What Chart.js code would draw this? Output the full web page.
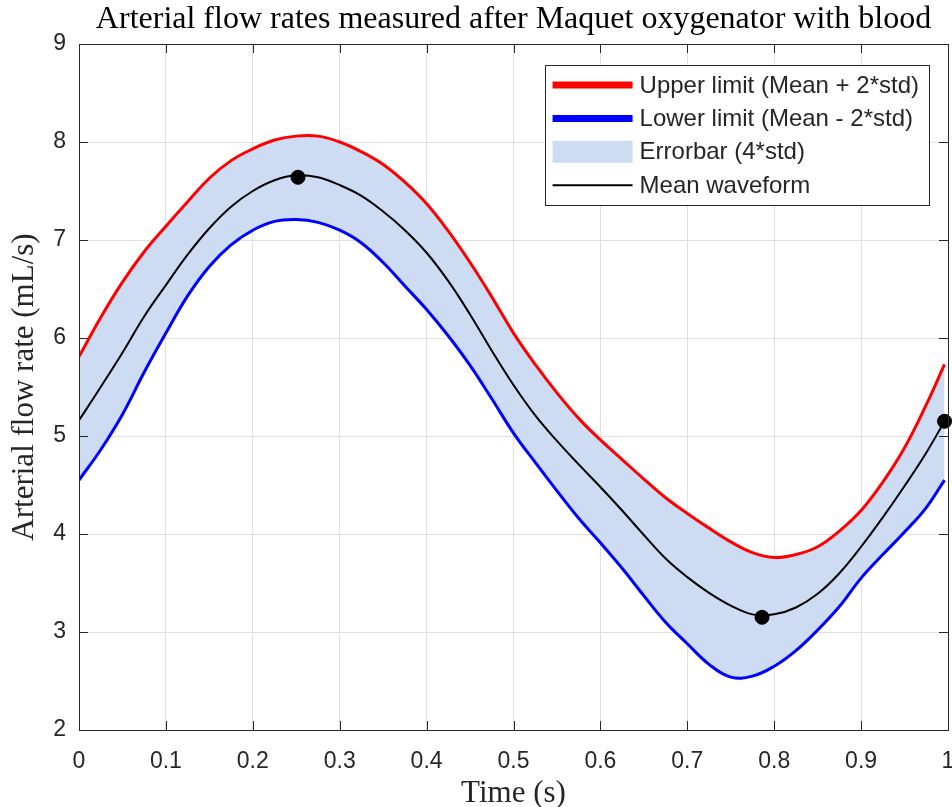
<!DOCTYPE html>
<html>
<head>
<meta charset="utf-8">
<script src="https://cdn.jsdelivr.net/npm/chart.js@4.4.1/dist/chart.umd.min.js"></script>
<style>
  html, body { margin: 0; padding: 0; background: #fff; overflow: hidden; }
  #flow { display: block; }
</style>
</head>
<body>
<canvas id="flow" width="952" height="807"></canvas>
<script>
// time axis (s) and the three waveforms (mL/s)
const timeS = [0, 0.025, 0.05, 0.075, 0.1, 0.125, 0.15, 0.175, 0.2, 0.225,
  0.25, 0.275, 0.3, 0.325, 0.35, 0.375, 0.4, 0.425, 0.45, 0.475,
  0.5, 0.525, 0.55, 0.575, 0.6, 0.625, 0.65, 0.675, 0.7, 0.725,
  0.75, 0.775, 0.8, 0.825, 0.85, 0.875, 0.9, 0.925, 0.95, 0.975, 0.996];

const upperLimit = [5.81, 6.21, 6.57, 6.88, 7.14, 7.39, 7.63, 7.81, 7.93, 8.02,
  8.06, 8.06, 8.00, 7.90, 7.77, 7.59, 7.37, 7.09, 6.77, 6.42,
  6.05, 5.73, 5.44, 5.18, 4.96, 4.76, 4.56, 4.37, 4.21, 4.06,
  3.92, 3.81, 3.76, 3.79, 3.87, 4.03, 4.24, 4.53, 4.88, 5.32, 5.73];

const meanFlow = [5.16, 5.50, 5.85, 6.22, 6.54, 6.85, 7.12, 7.34, 7.50, 7.61,
  7.66, 7.64, 7.56, 7.45, 7.29, 7.10, 6.87, 6.58, 6.24, 5.87,
  5.52, 5.21, 4.95, 4.71, 4.48, 4.24, 3.99, 3.75, 3.56, 3.40,
  3.27, 3.18, 3.18, 3.25, 3.39, 3.60, 3.87, 4.17, 4.49, 4.83, 5.15];

const lowerLimit = [4.55, 4.86, 5.22, 5.65, 6.05, 6.43, 6.73, 6.95, 7.10, 7.19,
  7.21, 7.18, 7.10, 6.97, 6.77, 6.53, 6.29, 6.02, 5.72, 5.38,
  5.03, 4.73, 4.44, 4.16, 3.91, 3.65, 3.37, 3.10, 2.88, 2.67,
  2.54, 2.55, 2.65, 2.81, 3.02, 3.26, 3.55, 3.79, 4.02, 4.27, 4.55];

// black dots: peak, trough, end of cycle
const markerTimes = [0.252, 0.786, 0.996];
const markerFlows = [7.64, 3.15, 5.15];

const legendLabels = ["Upper limit (Mean + 2*std)", "Lower limit (Mean - 2*std)", "Errorbar (4*std)", "Mean waveform"];

const BAND = "#cddcf3";
const INK = "#262626";
const SERIF = "'Liberation Serif', serif";
const SANS = "'Liberation Sans', Arial, sans-serif";

const xy = (xs, ys) => ys.map((v, i) => ({ x: xs[i], y: v }));

const axesBox = {
  id: "axesBox",
  afterDatasetsDraw(chart) {
    const { ctx, chartArea: a, scales: { x, y } } = chart;
    const tl = 9;
    ctx.save();
    ctx.strokeStyle = INK;
    ctx.lineWidth = 1;
    ctx.beginPath();
    x.ticks.forEach(t => {
      const px = Math.round(x.getPixelForValue(t.value)) + 0.5;
      ctx.moveTo(px, a.bottom); ctx.lineTo(px, a.bottom - tl);
      ctx.moveTo(px, a.top); ctx.lineTo(px, a.top + tl);
    });
    y.ticks.forEach(t => {
      const py = Math.round(y.getPixelForValue(t.value)) + 0.5;
      ctx.moveTo(a.left, py); ctx.lineTo(a.left + tl, py);
      ctx.moveTo(a.right, py); ctx.lineTo(a.right - tl, py);
    });
    ctx.stroke();
    ctx.strokeRect(Math.round(a.left) + 0.5, Math.round(a.top) + 0.5,
      Math.round(a.right - a.left), Math.round(a.bottom - a.top));
    ctx.restore();
  }
};

const boxLegend = {
  id: "boxLegend",
  afterDraw(chart) {
    const { ctx, chartArea: a } = chart;
    const ds = chart.data.datasets;
    ctx.save();
    ctx.font = "24px " + SANS;
    const textW = Math.max(...legendLabels.map(s => ctx.measureText(s).width));
    const w = 95 + textW + 10, h = 140;
    const left = a.right - 19 - w, top = a.top + 21;
    ctx.fillStyle = "#fff";
    ctx.fillRect(left, top, w, h);
    ctx.strokeStyle = INK;
    ctx.lineWidth = 1;
    ctx.strokeRect(Math.round(left) + 0.5, Math.round(top) + 0.5, Math.round(w), h);

    const samples = [
      { kind: "line", color: ds[0].borderColor, width: 7 },
      { kind: "line", color: ds[1].borderColor, width: 7 },
      { kind: "rect", color: BAND },
      { kind: "line", color: ds[2].borderColor, width: 2 }
    ];
    samples.forEach((s, i) => {
      const cy = top + 20 + i * 33.4;
      if (s.kind === "rect") {
        ctx.fillStyle = s.color;
        ctx.fillRect(left + 8, cy - 11, 80, 22);
      } else {
        ctx.strokeStyle = s.color;
        ctx.lineWidth = s.width;
        ctx.beginPath();
        ctx.moveTo(left + 8, cy);
        ctx.lineTo(left + 88, cy);
        ctx.stroke();
      }
      ctx.fillStyle = INK;
      ctx.textBaseline = "middle";
      ctx.fillText(legendLabels[i], left + 95, cy + 1);
    });
    ctx.restore();
  }
};

new Chart(document.getElementById("flow"), {
  type: "line",
  data: {
    datasets: [
      { label: legendLabels[0], data: xy(timeS, upperLimit), borderColor: "#ff0000", borderWidth: 3,
        pointRadius: 0, fill: false, tension: 0.4 },
      { label: legendLabels[1], data: xy(timeS, lowerLimit), borderColor: "#0000ff", borderWidth: 3,
        backgroundColor: BAND, pointRadius: 0, fill: "-1", tension: 0.4 },
      { label: legendLabels[3], data: xy(timeS, meanFlow), borderColor: "#000000", borderWidth: 2,
        pointRadius: 0, fill: false, tension: 0.4 },
      { type: "scatter", label: "markers", data: xy(markerTimes, markerFlows), showLine: false,
        pointRadius: 7, pointBackgroundColor: "#000", pointBorderColor: "#000", clip: false }
    ]
  },
  options: {
    responsive: false,
    animation: false,
    devicePixelRatio: 1,
    layout: { autoPadding: false, padding: { left: 0, right: 4, top: 0, bottom: 0 } },
    plugins: {
      legend: { display: false },
      tooltip: { enabled: false },
      filler: { drawTime: "beforeDatasetsDraw" },
      title: {
        display: true,
        fullSize: false,
        text: "Arterial flow rates measured after Maquet oxygenator with blood",
        color: "#000",
        font: { family: SERIF, size: 32, weight: "normal" },
        padding: { top: 0, bottom: 5.6 }
      }
    },
    scales: {
      x: {
        type: "linear", min: 0, max: 1,
        ticks: { stepSize: 0.1, color: INK, font: { family: SANS, size: 23 }, padding: 18, maxRotation: 0,
          callback: v => String(Math.round(v * 10) / 10) },
        grid: { color: "#dfdfdf", drawTicks: false },
        border: { display: false },
        title: { display: true, text: "Time (s)", color: INK, font: { family: SERIF, size: 31 }, padding: { top: 0, bottom: -5 } },
        afterFit: s => {
          s.height = 77;
          // let the last label "1" overhang the right margin as in the original
          s.paddingRight = 0;
          s.getPadding = () => ({ left: 0, top: 0, right: 0, bottom: 0 });
        }
      },
      y: {
        min: 2, max: 9,
        ticks: { stepSize: 1, color: INK, font: { family: SANS, size: 23 }, padding: 13 },
        grid: { color: "#dfdfdf", drawTicks: false },
        border: { display: false },
        title: { display: true, text: "Arterial flow rate (mL/s)", color: INK, font: { family: SERIF, size: 31 }, padding: { top: 6, bottom: 0 } },
        afterFit: s => { s.width = 79; }
      }
    }
  },
  plugins: [axesBox, boxLegend]
});
</script>
</body>
</html>
